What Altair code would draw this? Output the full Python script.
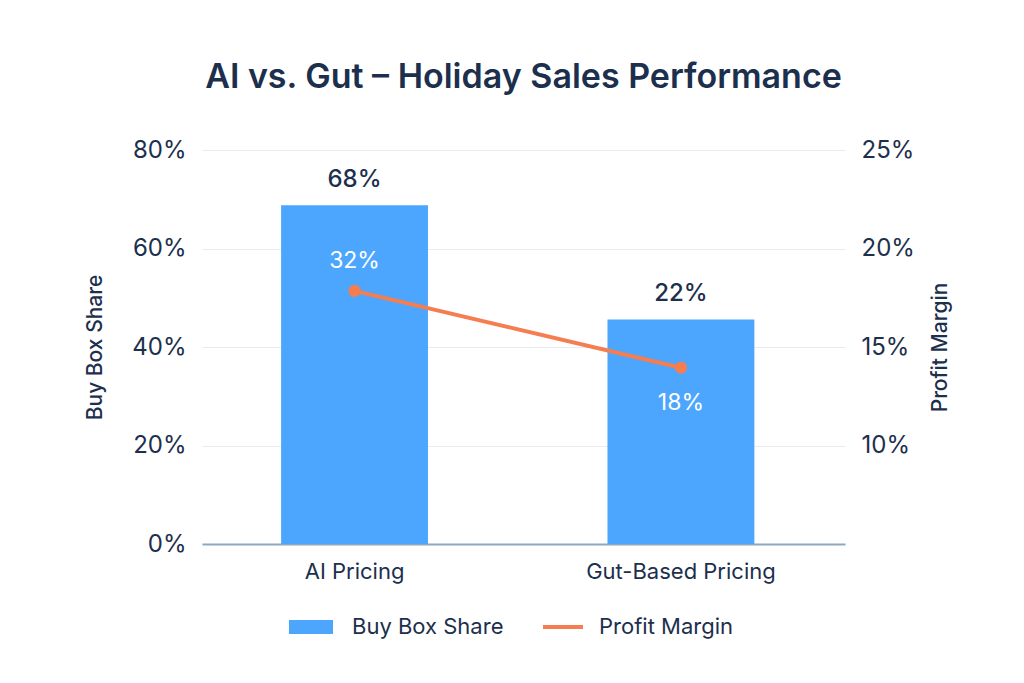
import altair as alt
import pandas as pd

# ---- data ----
categories = ["AI Pricing", "Gut-Based Pricing"]
buy_box_share = [68.8, 45.6]          # bar heights on left axis (%)
buy_box_labels = ["68%", "22%"]       # printed labels above bars
profit_margin = [17.85, 13.95]        # line points on right axis (%)
profit_labels = ["32%", "18%"]        # printed labels near points
left_ticks = [0, 20, 40, 60, 80]
right_ticks = [10, 15, 20, 25]

FONT = "Inter"
NAVY = "#1c2f4d"
BLUE = "#4da6fd"
ORANGE = "#f57d50"
GRID = "#e6ecf2"
DOMAIN = "#8ea8c0"

df = pd.DataFrame({
    "category": categories,
    "share": buy_box_share,
    "share_label": buy_box_labels,
    "margin": profit_margin,
    "margin_label": profit_labels,
    "bar_series": ["Buy Box Share"] * len(categories),
    "line_series": ["Profit Margin"] * len(categories),
})

base = alt.Chart(df)

x_axis = alt.Axis(
    title=None, labelAngle=0, labelFont=FONT, labelFontSize=22,
    labelColor=NAVY, labelPadding=17, labelLimit=400, ticks=False,
    domainColor=DOMAIN, domainWidth=2, grid=False,
)
x_scale = alt.Scale(paddingInner=0.55, paddingOuter=0.26, align=0.466)


def x_enc():
    return alt.X("category:N", sort=categories, scale=x_scale, axis=x_axis)


left_axis = alt.Axis(
    orient="left", values=left_ticks, labelExpr="datum.value + '%'",
    title="Buy Box Share", titleFont=FONT, titleFontSize=21,
    titleFontWeight=500, titleColor=NAVY, titlePadding=26,
    labelFont=FONT, labelFontSize=24, labelColor=NAVY,
    labelPadding=16, ticks=False, domain=False,
    grid=True, gridColor=GRID, gridWidth=1.2,
)
right_axis = alt.Axis(
    orient="right", values=right_ticks, labelExpr="datum.value + '%'",
    title="Profit Margin", titleFont=FONT, titleFontSize=21,
    titleFontWeight=500, titleColor=NAVY, titlePadding=36, titleAngle=270,
    labelFont=FONT, labelFontSize=24, labelColor=NAVY,
    labelPadding=16, ticks=False, domain=False, grid=False,
)

y_left_scale = alt.Scale(domain=[0, 80], nice=False, zero=True)
y_right_scale = alt.Scale(domain=[5, 25], nice=False, zero=False)


def y_left():
    return alt.Y("share:Q", scale=y_left_scale, axis=left_axis)


def y_right():
    return alt.Y("margin:Q", scale=y_right_scale, axis=right_axis)


bars = base.mark_bar(color=BLUE).encode(
    x=x_enc(),
    y=y_left(),
    color=alt.Color(
        "bar_series:N",
        scale=alt.Scale(domain=["Buy Box Share"], range=[BLUE]),
        legend=alt.Legend(
            title=None, orient="none", legendX=87, legendY=455,
            symbolType="M-1,-0.32H1V0.32H-1Z", symbolSize=1936,
            symbolStrokeWidth=0, labelOffset=19,
            labelFont=FONT, labelFontSize=22, labelColor=NAVY,
        ),
    ),
)

bar_text = base.mark_text(
    dy=-25, font=FONT, fontSize=24, color=NAVY, fontWeight=500
).encode(
    x=x_enc(),
    y=y_left(),
    text="share_label:N",
)

line = base.mark_line(color=ORANGE, strokeWidth=4).encode(
    x=x_enc(),
    y=y_right(),
    color=alt.Color(
        "line_series:N",
        scale=alt.Scale(domain=["Profit Margin"], range=[ORANGE]),
        legend=alt.Legend(
            title=None, orient="none", legendX=339, legendY=455,
            symbolType="stroke", symbolSize=1600, symbolStrokeWidth=4,
            labelOffset=14,
            labelFont=FONT, labelFontSize=22, labelColor=NAVY,
        ),
    ),
)

points = base.mark_circle(color=ORANGE, size=150, opacity=1).encode(
    x=x_enc(),
    y=y_right(),
)

label_above = base.transform_filter(
    alt.datum.category == categories[0]
).mark_text(dy=-30, font=FONT, fontSize=23, color="white").encode(
    x=x_enc(),
    y=y_right(),
    text="margin_label:N",
)

label_below = base.transform_filter(
    alt.datum.category == categories[1]
).mark_text(dy=35, font=FONT, fontSize=23, color="white").encode(
    x=x_enc(),
    y=y_right(),
    text="margin_label:N",
)

left_layer = alt.layer(bars, bar_text)
right_layer = alt.layer(line, points, label_above, label_below)

chart = (
    alt.layer(left_layer, right_layer)
    .resolve_scale(y="independent", color="independent")
    .properties(
        width=643,
        height=394,
        background="white",
        autosize=alt.AutoSizeParams(type="none"),
        padding={"left": 194, "top": 142, "right": 171, "bottom": 110},
        title=alt.Title(
            "AI vs. Gut – Holiday Sales Performance",
            font=FONT, fontSize=34, fontWeight=600, color=NAVY,
            anchor="middle", offset=43,
        ),
    )
    .configure_view(stroke="transparent", strokeWidth=0)
)

chart.save("out.html", embed_options={"renderer": "svg", "actions": False})
